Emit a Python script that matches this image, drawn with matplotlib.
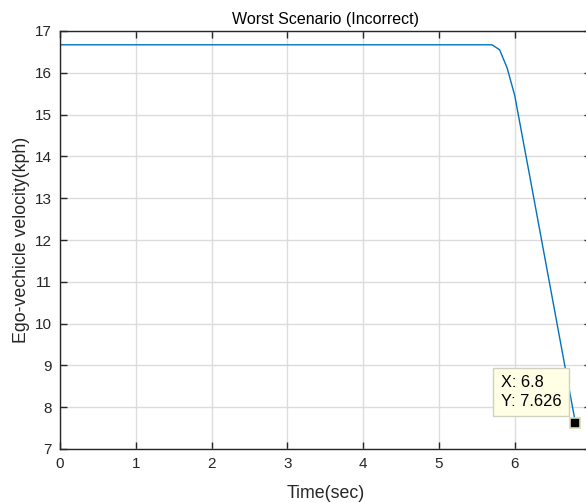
import matplotlib
matplotlib.use("Agg")
import matplotlib.pyplot as plt

# data (time in sec, velocity in kph)
time_sec = [0.0, 5.7, 5.8, 5.9, 6.0, 6.1, 6.2, 6.3, 6.4, 6.5, 6.6, 6.7, 6.8]
velocity_kph = [16.67, 16.67, 16.55, 16.11, 15.45, 14.47, 13.50, 12.52,
                11.54, 10.56, 9.58, 8.60, 7.626]
tip_x, tip_y = 6.8, 7.626

plt.rcParams['font.family'] = ['Liberation Sans', 'DejaVu Sans']
AX_COLOR = "#262626"

W, H = 586, 503
fig = plt.figure(figsize=(W / 100, H / 100), dpi=100)
# axes box extends past the right edge (the reference is cropped there)
ax = fig.add_axes([60 / W, (H - 449) / H, 530.6 / W, 418 / H])

ax.plot(time_sec, velocity_kph, color="#0072BD", linewidth=1.0)

ax.set_xlim(0, 7)
ax.set_ylim(7, 17)
ax.set_xticks(range(0, 7))
ax.set_yticks(range(7, 18))
ax.grid(True, color="#dcdcdc", linewidth=1.0)
ax.set_axisbelow(True)
ax.tick_params(direction="in", length=5, width=1, colors=AX_COLOR,
               labelsize=11, top=True, right=True, pad=6)
for s in ax.spines.values():
    s.set_color(AX_COLOR)
    s.set_linewidth(1.0)

ax.set_title("Worst Scenario (Incorrect)", fontsize=11.5, color="black", pad=5)
ax.set_xlabel("Time(sec)", fontsize=12.8, color=AX_COLOR, labelpad=10)
ax.set_ylabel("Ego-vechicle velocity(kph)", fontsize=12.8, color=AX_COLOR, labelpad=3)

# data tip
ax.plot([tip_x], [tip_y], marker="s", markersize=7.5, color="black",
        markeredgecolor="#d8d8b4", markeredgewidth=1.2, clip_on=False, zorder=5)
ax.annotate(f"X: {tip_x:g}\nY: {tip_y:g}", xy=(tip_x, tip_y),
            xytext=(-14, 14), textcoords="offset pixels",
            ha="right", va="bottom", multialignment="left",
            fontsize=11.8, color="black", linespacing=1.32,
            bbox=dict(boxstyle="square,pad=0.45", fc="#ffffe6", ec="#d0d0c0", lw=1.0),
            zorder=6)

fig.savefig("out.png", dpi=100)
